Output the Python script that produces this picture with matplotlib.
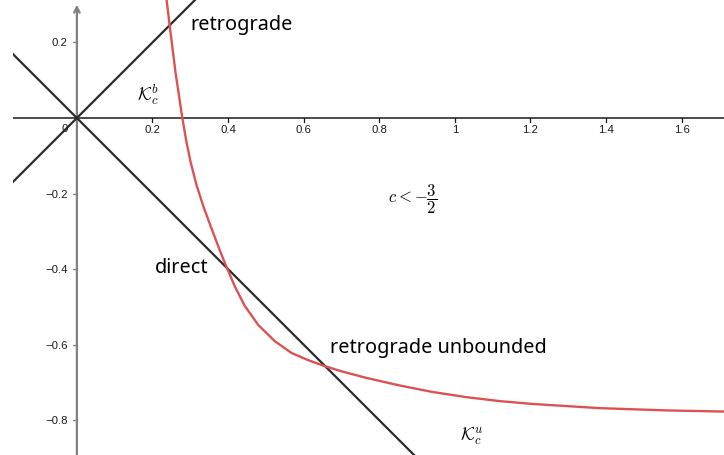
import matplotlib
matplotlib.use("Agg")
import matplotlib.pyplot as plt

# Boundary curve sampled along its length (x, y)
curve_x = [0.237, 0.246, 0.261, 0.279, 0.290, 0.301, 0.317, 0.334, 0.356, 0.378,
           0.392, 0.418, 0.444, 0.480, 0.524, 0.568, 0.612, 0.652, 0.700, 0.762,
           0.854, 0.940, 1.031, 1.120, 1.207, 1.384, 1.560, 1.712]
curve_y = [0.315, 0.241, 0.120, 0.000, -0.064, -0.117, -0.179, -0.232, -0.292, -0.350,
           -0.385, -0.446, -0.497, -0.548, -0.591, -0.622, -0.641, -0.6555, -0.6705, -0.687,
           -0.708, -0.725, -0.739, -0.7495, -0.757, -0.768, -0.774, -0.777]

# Straight lines through the origin
line_slopes = [1, -1]

x_ticks = [0.2, 0.4, 0.6, 0.8, 1.0, 1.2, 1.4, 1.6]
x_tick_labels = ["0.2", "0.4", "0.6", "0.8", "1", "1.2", "1.4", "1.6"]
y_ticks = [0.2, -0.2, -0.4, -0.6, -0.8]
y_tick_labels = ["0.2", "\u22120.2", "\u22120.4", "\u22120.6", "\u22120.8"]

region_labels = ["retrograde", "direct", "retrograde unbounded"]
region_pos = [(0.299, 0.249), (0.206, -0.394), (0.669, -0.605)]

W, H = 724, 456
fig = plt.figure(figsize=(W / 100, H / 100), dpi=100)
ax = fig.add_axes([13 / W, 0, (W - 13) / W, 1])
ax.set_xlim(-0.169, 1.712)
ax.set_ylim(-0.892, 0.315)
ax.set_axis_off()

# Axes
ax.axhline(0, color="#1a1a1a", lw=1.1, zorder=1)
ax.annotate("", xy=(0, 0.300), xytext=(0, -0.892),
            arrowprops=dict(arrowstyle="->", color="#808080", lw=1.6,
                            mutation_scale=10, shrinkA=0, shrinkB=0), zorder=1)

tick_font = dict(family=["Liberation Sans", "DejaVu Sans"], fontsize=8.2, color="#1a1a1a")
tick_len = 0.011
for v, lab in zip(x_ticks, x_tick_labels):
    ax.plot([v, v], [0, -tick_len], color="#1a1a1a", lw=0.9, zorder=1)
    ax.text(v, -0.028, lab, ha="center", va="center", **tick_font)
for v, lab in zip(y_ticks, y_tick_labels):
    ax.plot([-tick_len, 0], [v, v], color="#808080", lw=0.9, zorder=1)
    ax.text(-0.024, v, lab, ha="right", va="center", **tick_font)
ax.text(-0.024, -0.026, "0", ha="right", va="center", **tick_font)

# Lines y = ±x
for s in line_slopes:
    ax.axline((0, 0), slope=s, color="#2b2b2b", lw=1.6, zorder=2)

# Boundary curve
ax.plot(curve_x, curve_y, color="#dc5252", lw=1.7, zorder=3,
        solid_capstyle="round", solid_joinstyle="round")

# Region labels
for lab, (px, py) in zip(region_labels, region_pos):
    ax.text(px, py, lab, ha="left", va="center", fontsize=14.3,
            family=["Noto Sans", "DejaVu Sans"], color="black", zorder=4)

plt.rcParams["mathtext.fontset"] = "cm"
ax.text(0.188, 0.0635, r"$\mathcal{K}_c^b$", ha="center", va="center", fontsize=13)
ax.text(1.044, -0.840, r"$\mathcal{K}_c^u$", ha="center", va="center", fontsize=13)
ax.text(0.889, -0.214, r"$c<-\dfrac{3}{2}$", ha="center", va="center", fontsize=12)

fig.savefig("out.png", dpi=100)
